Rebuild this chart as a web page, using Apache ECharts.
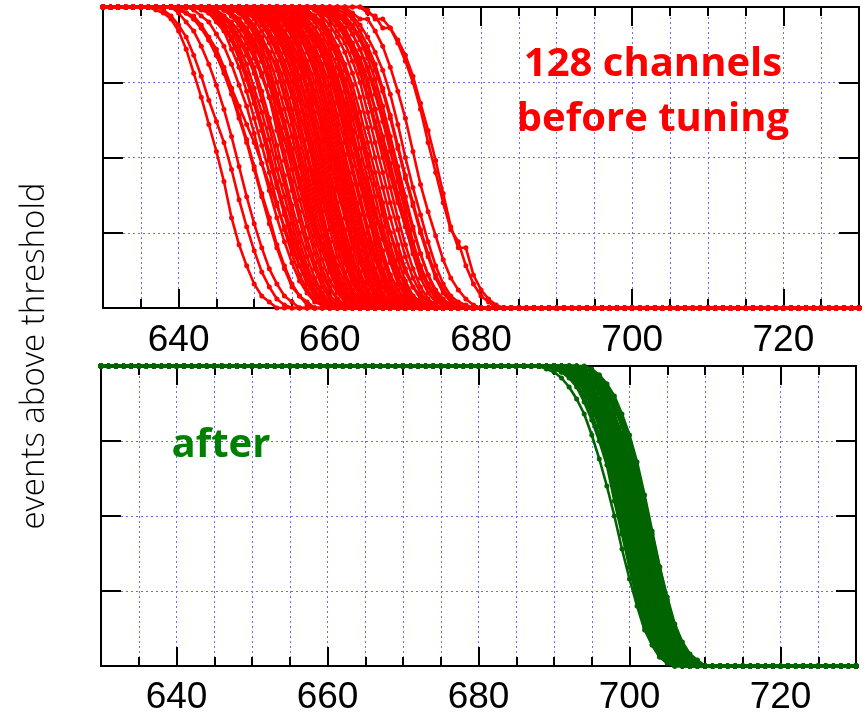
<!DOCTYPE html>
<html>
<head>
<meta charset="utf-8">
<script src="https://cdn.jsdelivr.net/npm/echarts@6/dist/echarts.min.js"></script>
<style>
html,body{margin:0;padding:0;background:#fff;}
#chart{width:867px;height:716px;}
</style>
</head>
<body>
<div id="chart"></div>
<script>
// ---------------- data ----------------
const xMin = 630, xMax = 730;
const xTickLabels = [640, 660, 680, 700, 720];
const yLabel = 'events above threshold';
const redText = '128 channels\nbefore tuning';
const greenText = 'after';

// Before tuning: first DAC value where each channel leaves 100 %, then its read values (%) until 0
const redStart = [
  637, 638, 639, 640, 641, 642, 640,
  643, 643, 644, 644, 645, 645, 645, 646, 646, 647, 647, 647,
  648, 648, 648, 649, 649, 649, 649, 650, 650, 650, 651, 651, 651,
  652, 652, 652, 652, 653, 653, 653, 654, 654, 654, 655, 655, 655,
  656, 656, 657, 657, 658, 658, 659, 659, 660, 660,
  645, 650, 652, 658,
  662, 663, 665, 665,
  646, 651, 654, 656, 648, 653, 657, 659, 650, 655, 661, 644,
  659, 660, 661
];
const redValues = [
  [99,98,96,92,86,78,70,61,52,42,30,21,14,8,4,2,0],
  [99,97,94,90,84,77,69,62,55,46,36,27,19,12,7,3,1,0],
  [100,98,95,92,87,81,74,66,57,47,37,28,20,13,8,4,2,0],
  [99,98,96,93,89,84,78,71,63,55,46,37,28,20,13,7,4,1,0],
  [98,97,94,90,86,80,73,64,56,47,38,30,21,14,8,4,2,0],
  [99,97,95,91,87,81,74,67,58,48,39,30,22,15,9,5,2,1,0],
  [99,98,96,93,89,84,79,73,67,61,55,48,41,34,27,20,14,9,5,2,1,0],
  [99,98,95,92,86,80,72,63,54,45,35,26,18,11,6,3,1,0],
  [100,98,96,93,89,83,76,68,59,49,40,31,22,14,8,4,2,0],
  [99,97,94,90,85,78,70,61,52,42,33,25,17,10,5,2,0],
  [99,98,95,92,87,81,73,65,56,46,37,28,19,12,6,3,1,0],
  [99,97,93,89,84,78,69,60,50,41,31,22,14,8,4,1,0],
  [98,96,94,90,86,80,72,63,54,44,34,25,17,10,5,2,1,0],
  [100,99,97,94,90,85,78,70,59,49,39,29,20,13,7,3,1,0],
  [99,97,94,90,85,78,70,62,52,42,32,23,15,9,4,2,0],
  [99,98,96,92,88,82,74,65,56,46,36,27,18,11,6,3,1,0],
  [98,96,93,89,84,77,69,60,50,40,30,21,13,7,3,1,0],
  [99,98,95,91,86,80,71,62,53,43,33,24,16,9,5,2,0],
  [99,98,96,93,89,83,75,66,57,47,37,28,19,12,6,3,1,0],
  [99,97,94,90,85,79,70,61,50,40,30,21,13,7,3,1,0],
  [98,96,93,89,85,80,72,63,53,43,33,24,16,9,4,2,0],
  [99,98,96,92,88,82,75,66,57,46,36,27,18,11,6,2,1,0],
  [99,97,94,90,85,78,70,60,50,39,29,20,12,6,3,1,0],
  [99,98,95,91,86,80,72,62,52,42,32,22,14,8,4,1,0],
  [100,98,96,92,88,82,75,65,56,46,36,26,17,10,5,2,0],
  [99,99,97,94,90,85,78,69,59,49,39,29,20,12,6,3,1,0],
  [99,97,94,90,85,78,70,61,52,42,32,23,15,8,4,1,0],
  [98,97,95,92,87,81,73,64,55,45,35,25,17,10,5,2,0],
  [99,98,96,93,89,83,76,67,58,48,38,28,19,11,6,3,1,0],
  [99,97,94,90,84,77,69,60,50,40,30,21,13,7,3,1,0],
  [98,97,95,91,86,80,72,62,53,43,33,23,15,9,4,2,0],
  [99,98,96,92,88,82,74,65,56,46,35,26,17,10,5,2,1,0],
  [99,97,94,90,85,78,70,60,50,40,30,20,12,6,3,1,0],
  [99,98,95,91,86,80,72,63,53,43,33,23,15,8,4,1,0],
  [100,98,96,93,88,82,75,66,56,46,36,26,17,10,5,2,0],
  [99,99,97,94,90,85,78,69,59,49,39,29,19,12,6,3,1,0],
  [99,97,95,91,86,80,72,62,52,42,32,22,14,8,3,1,0],
  [98,97,95,92,88,82,74,65,55,45,35,25,16,9,4,2,0],
  [99,98,96,93,89,84,77,68,58,48,38,28,18,11,5,2,1,0],
  [99,97,94,90,85,79,71,61,51,41,31,21,13,7,3,1,0],
  [99,98,95,92,87,81,74,64,55,45,35,25,16,9,4,2,0],
  [100,98,96,93,89,84,77,68,58,47,37,27,18,11,5,2,1,0],
  [99,97,94,90,85,79,71,62,51,41,31,22,13,7,3,1,0],
  [98,97,95,91,87,81,73,64,55,45,35,25,16,9,4,2,0],
  [99,98,96,93,89,84,77,68,59,49,38,28,19,11,6,2,1,0],
  [99,97,95,91,86,80,72,63,53,43,33,23,15,8,4,1,0],
  [99,98,96,93,88,83,75,66,57,47,37,27,18,10,5,2,0],
  [99,97,94,90,85,79,71,61,51,41,31,21,13,7,3,1,0],
  [98,97,95,92,87,81,74,65,55,45,35,25,16,9,4,2,0],
  [99,97,94,90,85,78,70,60,50,40,30,21,13,7,3,1,0],
  [99,98,96,92,88,82,75,65,55,45,35,26,17,10,5,2,0],
  [99,97,94,90,85,78,70,60,50,40,30,21,13,7,3,1,0],
  [99,98,96,93,88,83,76,66,56,46,36,27,18,10,5,2,1,0],
  [99,97,95,91,86,79,71,62,52,42,32,22,14,8,4,1,0],
  [99,98,96,93,89,83,76,67,57,47,37,27,18,11,5,2,1,0],
  [99,97,95,92,88,83,77,70,63,56,49,42,35,28,21,15,10,6,3,1,0],
  [99,98,96,93,89,85,80,74,68,62,56,50,43,36,29,22,16,11,7,4,2,0],
  [98,95,90,82,71,58,45,32,20,11,5,2,0],
  [99,96,91,83,72,59,46,33,21,12,6,2,0],
  [99,97,94,90,85,79,71,61,50,40,31,22,14,8,4,2,1,0],
  [98,96,96,92,87,80,72,63,52,41,32,24,16,10,6,3,1,0],
  [98,97,93,93,88,82,75,66,55,45,35,26,22,14,8,4,2,0],
  [99,96,96,93,89,84,77,68,59,49,38,27,20,20,11,6,3,1,0],
  [99,98,95,91,87,82,75,68,60,51,43,35,28,21,15,10,6,3,1,0],
  [99,97,95,92,88,83,77,70,62,54,46,38,30,23,17,11,7,4,2,0],
  [99,98,96,93,89,84,78,71,64,56,48,40,32,25,18,12,8,4,2,1,0],
  [98,96,93,88,82,75,67,58,49,40,31,23,16,10,6,3,1,0],
  [99,97,93,87,80,71,62,52,43,34,26,19,13,8,4,2,0],
  [99,96,92,86,78,69,59,49,39,30,22,15,9,5,2,1,0],
  [99,97,94,89,83,76,68,59,50,41,33,25,18,12,7,4,2,0],
  [99,98,95,91,86,79,71,62,53,44,35,27,19,13,8,4,2,1,0],
  [99,98,95,91,85,78,69,59,49,39,30,22,15,9,5,2,1,0],
  [99,97,94,90,84,77,69,60,51,42,33,25,17,11,6,3,1,0],
  [99,98,96,92,87,81,73,64,54,44,35,26,18,11,6,3,1,0],
  [99,97,94,89,83,76,68,59,50,41,32,24,17,11,6,3,1,0],
  [99,98,96,92,87,81,74,66,57,48,38,29,20,12,7,3,1,0],
  [99,97,95,91,86,80,73,64,55,45,35,26,18,11,6,3,1,0],
  [98,97,94,90,85,79,72,63,53,43,34,25,17,10,5,2,1,0]
];

// After tuning
const greenStart = [
  690, 690, 691, 691, 691, 691, 691, 692, 692, 692, 692, 692,
  693, 693, 693, 693, 693, 694, 694, 694, 692, 691, 692, 693,
  692, 695, 690, 691, 689, 694
];
const greenValues = [
  [99,98,96,93,88,82,75,67,55,44,33,23,14,8,4,2,1,0],
  [100,98,97,94,90,84,77,69,59,47,36,25,16,9,4,2,0],
  [99,98,95,92,86,80,72,62,50,38,27,17,10,5,2,0],
  [99,97,96,93,87,81,74,64,53,41,29,19,11,6,3,1,0],
  [99,98,97,94,89,83,76,67,56,44,32,22,13,7,3,1,0],
  [100,99,97,95,90,85,78,69,58,46,35,24,15,8,4,2,0],
  [99,99,98,95,91,86,80,71,61,49,37,26,16,9,4,2,1,0],
  [99,98,96,92,87,80,73,63,51,39,28,18,11,5,2,1,0],
  [99,97,96,93,88,81,74,65,54,42,30,20,12,6,3,1,0],
  [98,98,96,93,88,82,75,66,55,43,31,21,13,7,3,1,0],
  [99,98,97,94,89,84,77,68,57,45,33,23,14,8,3,1,0],
  [100,99,97,95,91,85,79,70,60,48,36,25,16,9,4,2,0],
  [99,98,96,92,86,80,72,62,50,38,27,17,10,5,2,1,0],
  [99,98,96,93,87,81,74,64,53,40,29,19,11,6,2,1,0],
  [98,97,96,93,88,82,75,66,55,43,31,21,13,7,3,1,0],
  [99,98,97,94,90,84,77,68,57,46,34,23,14,8,4,1,0],
  [99,99,98,95,91,86,80,71,61,49,37,26,16,9,4,2,0],
  [99,98,96,92,87,80,73,63,51,39,28,18,10,5,2,1,0],
  [99,98,96,93,88,82,75,65,54,42,30,20,12,6,3,1,0],
  [99,98,97,94,90,84,77,68,57,45,33,22,13,7,3,1,0],
  [99,98,95,92,86,80,72,62,50,38,27,17,10,5,2,1,0],
  [99,97,97,93,89,85,75,68,57,45,33,23,14,8,3,1,0],
  [99,99,97,94,92,84,80,70,59,49,35,25,17,9,5,2,0],
  [99,98,96,94,88,81,73,66,52,42,30,18,13,6,3,1,0],
  [99,97,94,88,80,70,58,45,33,22,13,7,3,1,0],
  [99,97,94,88,80,70,59,46,33,22,13,7,3,1,0],
  [99,98,97,95,92,88,83,77,70,62,53,44,35,26,18,11,6,3,1,0],
  [100,98,96,92,88,81,73,65,53,42,30,19,12,6,2,1,0],
  [99,98,96,93,89,84,77,69,60,50,39,29,20,12,7,3,1,0],
  [99,98,96,92,87,81,74,65,55,44,33,23,14,8,4,2,0]
];

// ---------------- build ----------------
function curve(start, vals) {
  const pts = [];
  for (let x = xMin; x < start; x++) pts.push([x, 100]);
  vals.forEach((v, i) => pts.push([start + i, v]));
  for (let x = start + vals.length; x <= xMax; x++) pts.push([x, 0]);
  return pts;
}

const gridBlue = '#6a6aff';
const black = '#000';
const labelFont = { fontFamily: 'Liberation Sans, Arial, sans-serif', fontSize: 37, color: '#000' };
const dotted = { color: gridBlue, width: 1, type: [2, 3] };

function xAxes(gridIndex, labelMargin) {
  return [
    { // bottom minor + grid + labels
      gridIndex, type: 'value', position: 'bottom', min: xMin, max: xMax, interval: 5,
      axisLine: { show: true, onZero: false, lineStyle: { color: black, width: 2 } },
      axisTick: { show: true, inside: true, length: 9, lineStyle: { color: black, width: 2 } },
      splitLine: { show: true, lineStyle: dotted },
      axisLabel: Object.assign({ show: true, customValues: xTickLabels, margin: labelMargin }, labelFont)
    },
    { // bottom major ticks
      gridIndex, type: 'value', position: 'bottom', min: xMin, max: xMax,
      axisLine: { show: false, onZero: false },
      axisTick: { show: true, inside: true, length: 19, customValues: xTickLabels, lineStyle: { color: black, width: 2 } },
      splitLine: { show: false }, axisLabel: { show: false }
    },
    { // top minor
      gridIndex, type: 'value', position: 'top', min: xMin, max: xMax, interval: 5,
      axisLine: { show: true, onZero: false, lineStyle: { color: black, width: 2 } },
      axisTick: { show: true, inside: true, length: 9, lineStyle: { color: black, width: 2 } },
      splitLine: { show: false }, axisLabel: { show: false }
    },
    { // top major
      gridIndex, type: 'value', position: 'top', min: xMin, max: xMax,
      axisLine: { show: false, onZero: false },
      axisTick: { show: true, inside: true, length: 19, customValues: xTickLabels, lineStyle: { color: black, width: 2 } },
      splitLine: { show: false }, axisLabel: { show: false }
    }
  ];
}
function yAxes(gridIndex) {
  return [
    {
      gridIndex, type: 'value', position: 'left', min: 0, max: 100, interval: 25,
      axisLine: { show: true, onZero: false, lineStyle: { color: black, width: 2 } },
      axisTick: { show: true, inside: true, length: 20, lineStyle: { color: black, width: 2 } },
      splitLine: { show: true, lineStyle: dotted },
      axisLabel: { show: false }
    },
    {
      gridIndex, type: 'value', position: 'right', min: 0, max: 100, interval: 25,
      axisLine: { show: true, onZero: false, lineStyle: { color: black, width: 2 } },
      axisTick: { show: true, inside: true, length: 20, lineStyle: { color: black, width: 2 } },
      splitLine: { show: false }, axisLabel: { show: false }
    }
  ];
}

function lineSeries(start, vals, xi, yi, color) {
  return {
    type: 'line', xAxisIndex: xi, yAxisIndex: yi, data: curve(start, vals),
    symbol: 'circle', symbolSize: 5, showSymbol: true, showAllSymbol: true,
    lineStyle: { color, width: 2.6 }, itemStyle: { color },
    clip: false, silent: true, z: 3, animation: false
  };
}

const series = [];
redStart.forEach((s, i) => series.push(lineSeries(s, redValues[i], 0, 0, '#ff0000')));
greenStart.forEach((s, i) => series.push(lineSeries(s, greenValues[i], 4, 2, '#006400')));

const option = {
  animation: false,
  backgroundColor: '#fff',
  grid: [
    { left: 103, top: 7, width: 756, height: 301 },
    { left: 101, top: 366, width: 755, height: 302 }
  ],
  xAxis: [...xAxes(0, 14), ...xAxes(1, 13)],
  yAxis: [...yAxes(0), ...yAxes(1)],
  series,
  graphic: [
    {
      type: 'text', x: 35, y: 356, rotation: Math.PI / 2, z: 10,
      style: { text: yLabel, fill: '#000', font: '300 33px "Open Sans", sans-serif', align: 'center', verticalAlign: 'middle' }
    },
    {
      type: 'text', x: 653, y: 92, z: 10,
      style: { text: redText, fill: '#ff0000', font: 'bold 40px "Open Sans", sans-serif', lineHeight: 55, align: 'center', verticalAlign: 'middle' }
    },
    {
      type: 'text', x: 221, y: 446, z: 10,
      style: { text: greenText, fill: '#008000', font: 'bold 40px "Open Sans", sans-serif', align: 'center', verticalAlign: 'middle' }
    }
  ]
};

const chart = echarts.init(document.getElementById('chart'), null, { renderer: 'canvas' });
chart.setOption(option);
</script>
</body>
</html>
